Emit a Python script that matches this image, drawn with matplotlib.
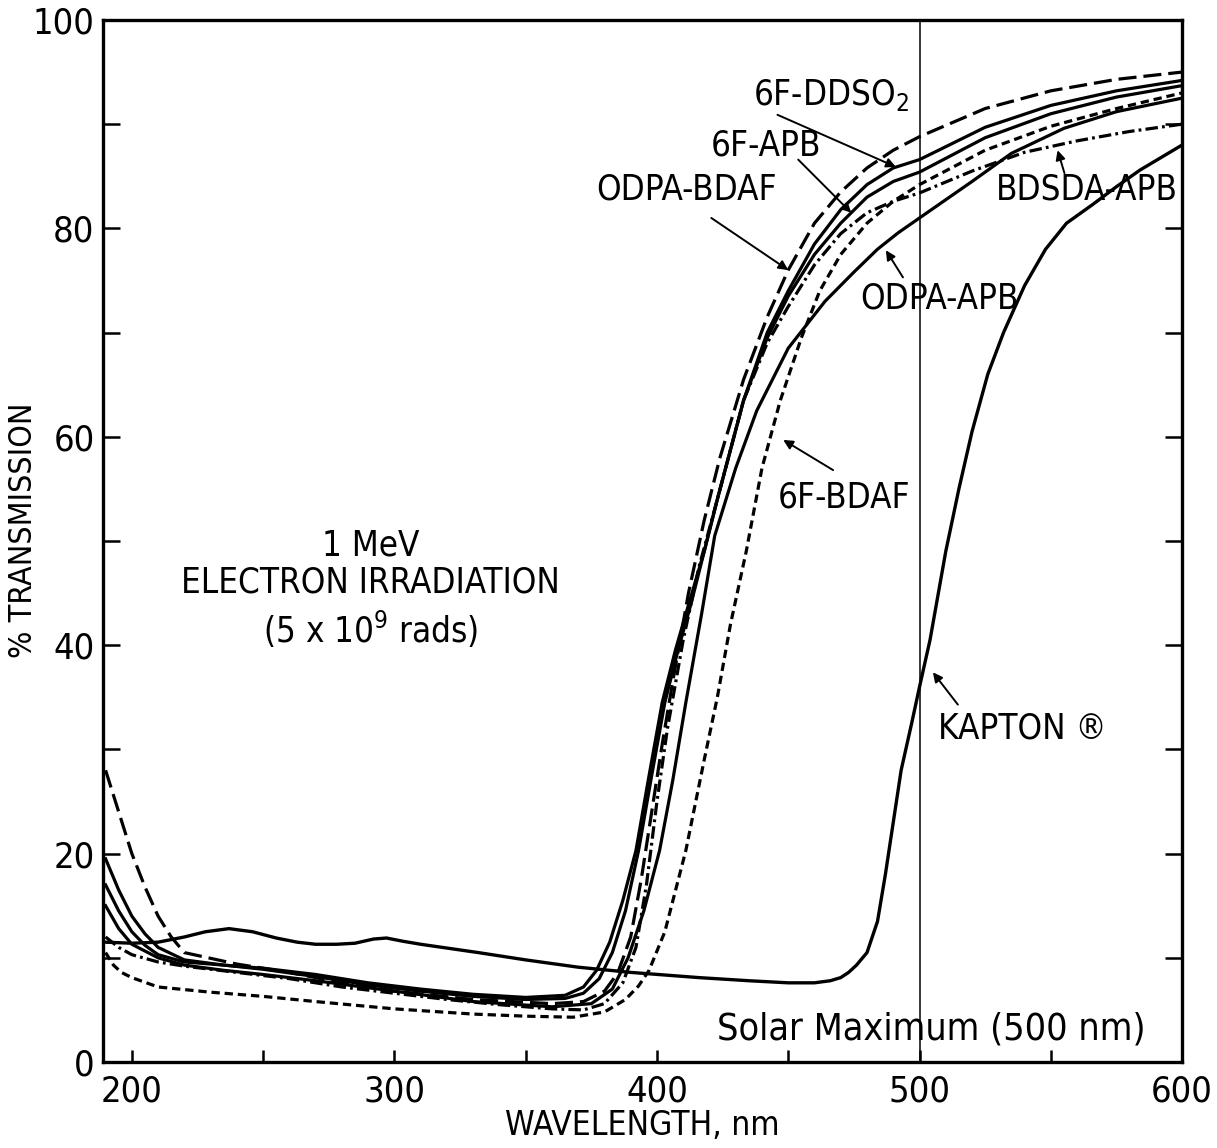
import numpy as np
import matplotlib.pyplot as plt

plt.rcParams['font.family'] = ['DejaVu Sans']
plt.rcParams['font.stretch'] = 'condensed'
plt.rcParams['mathtext.fontset'] = 'dejavusans'
plt.rcParams['lines.scale_dashes'] = False

# transmission curves after 1 MeV electron dose, wavelength in nm, % transmission
kapton_wl = [190, 200, 210, 220, 228, 237, 246, 255, 263, 270, 278, 285, 292, 297, 303,
             310, 332, 350, 370, 390, 416, 435, 450, 460, 466, 470, 473, 476, 480, 484,
             487, 490, 493, 497, 500, 504, 510, 515, 520, 526, 532, 540, 548, 556, 566,
             575, 584, 592, 600]
kapton_t = [11.5, 11.4, 11.5, 12.0, 12.5, 12.8, 12.5, 11.9, 11.5, 11.3, 11.3, 11.4, 11.8, 11.9, 11.6,
            11.3, 10.5, 9.8, 9.1, 8.6, 8.1, 7.8, 7.6, 7.6, 7.8, 8.1, 8.6, 9.3, 10.5, 13.5,
            18, 23, 28, 32.5, 36, 40.5, 49, 55, 60.5, 66, 70, 74.5, 78, 80.5, 82.3,
            84, 85.6, 86.8, 88]

odpa_bdaf_wl = [190, 195, 200, 205, 210, 215, 220, 240, 260, 280, 300, 330, 360, 372, 380,
                385, 390, 394, 398, 402, 406, 412, 418, 424, 433, 442, 450, 460, 470, 480,
                490, 500, 525, 550, 575, 600]
odpa_bdaf_t = [28, 24, 20, 16.8, 14, 12, 10.5, 9.4, 8.6, 7.6, 6.8, 6.0, 5.6, 5.8, 6.8,
               8.5, 12, 17.5, 24, 30.5, 36.5, 45, 52, 58, 65.5, 71.5, 76, 80.5, 83.5, 85.8,
               87.5, 88.8, 91.5, 93.2, 94.3, 95]

ddso2_wl = [190, 195, 200, 205, 210, 220, 235, 250, 270, 290, 310, 330, 350, 365, 372,
            378, 383, 388, 393, 398, 403, 408, 413, 418, 423, 433, 442, 450, 460, 470,
            480, 490, 500, 525, 550, 575, 600]
ddso2_t = [19.5, 16.5, 14, 12.3, 11, 9.8, 9.3, 8.9, 8.2, 7.4, 6.8, 6.3, 6.0, 6.1, 6.6,
           8, 10.5, 14.5, 20.3, 27.5, 34.5, 39.5, 44, 49, 54, 63.5, 70, 74, 78.5, 81.8,
           84.2, 85.8, 86.6, 89.7, 91.8, 93.2, 94.2]

apb_6f_wl = [190, 195, 200, 205, 210, 220, 235, 250, 270, 290, 310, 330, 350, 365, 372,
             377, 382, 387, 392, 397, 402, 407, 411, 418, 423, 433, 442, 450, 460, 470,
             480, 490, 500, 525, 550, 575, 600]
apb_6f_t = [17, 14.5, 12.5, 11.2, 10.3, 9.6, 9.3, 9.0, 8.4, 7.6, 7.0, 6.5, 6.2, 6.4, 7.2,
            8.8, 11.5, 15.5, 20.3, 27.5, 34.5, 39.5, 43, 49, 54, 63.5, 69.5, 73.5, 77.5, 80.5,
            83, 84.5, 85.4, 88.7, 91, 92.6, 93.7]

bdsda_wl = [190, 195, 200, 210, 220, 240, 260, 280, 300, 320, 340, 360, 372, 380, 387,
            392, 396, 400, 404, 410, 416, 423, 433, 442, 450, 460, 470, 480, 490, 500,
            520, 540, 560, 580, 600]
bdsda_t = [12, 11, 10.3, 9.6, 9.2, 8.6, 8.0, 7.2, 6.6, 6.0, 5.5, 5.1, 5.0, 5.6, 7.6,
           11, 17, 25, 32, 40.5, 47.5, 54, 63.5, 69, 72.5, 76.5, 79.5, 81.5, 82.6, 83.4,
           85.5, 87.3, 88.4, 89.3, 90]

odpa_apb_wl = [190, 195, 200, 210, 220, 235, 250, 270, 300, 330, 360, 375, 383, 389, 395,
               401, 406, 411, 417, 422, 430, 438, 450, 464, 475, 484, 492, 500, 520, 535,
               555, 575, 600]
odpa_apb_t = [15, 12.8, 11.3, 10, 9.3, 8.8, 8.4, 7.8, 6.8, 5.8, 5.3, 5.6, 7, 10, 14.5,
              20.3, 27, 34.5, 43, 50.5, 57, 62.5, 68.5, 73, 75.8, 78, 79.6, 81, 84.5, 87.2,
              89.6, 91.2, 92.5]

bdaf_6f_wl = [190, 193, 196, 200, 210, 230, 250, 270, 300, 330, 350, 368, 380, 388, 393,
              397, 403, 411, 418, 423, 428, 434, 440, 447, 455, 462, 470, 480, 490, 500,
              525, 550, 575, 600]
bdaf_6f_t = [10.5, 9.3, 8.6, 8.1, 7.2, 6.7, 6.3, 5.8, 5.1, 4.6, 4.4, 4.3, 4.8, 6, 7.3,
             8.8, 12.5, 20.3, 29, 35, 42, 49, 57, 63.5, 69.5, 74, 77.5, 80.5, 82.6, 84.2,
             87.5, 89.8, 91.5, 93]

fig = plt.figure(figsize=(12.17, 11.48), dpi=100)
ax = fig.add_axes([0.0846, 0.0749, 0.8867, 0.9077])

lw = 2.3
ax.plot(kapton_wl, kapton_t, color='black', lw=2.4)
ax.plot(odpa_bdaf_wl, odpa_bdaf_t, color='black', lw=lw, dashes=(13, 5))
ax.plot(ddso2_wl, ddso2_t, color='black', lw=lw)
ax.plot(apb_6f_wl, apb_6f_t, color='black', lw=lw)
ax.plot(bdsda_wl, bdsda_t, color='black', lw=lw, dashes=(9, 3, 2, 3))
ax.plot(odpa_apb_wl, odpa_apb_t, color='black', lw=lw)
ax.plot(bdaf_6f_wl, bdaf_6f_t, color='black', lw=lw, dashes=(6, 3.5))

# solar maximum marker
ax.axvline(500, color='black', lw=1.1)

ax.set_xlim(189, 600)
ax.set_ylim(0, 100)
ax.set_xticks([200, 300, 400, 500, 600])
ax.set_xticks(np.arange(250, 600, 100), minor=True)
ax.set_yticks(np.arange(0, 101, 20))
ax.set_yticks(np.arange(10, 100, 20), minor=True)
ax.tick_params(axis='both', which='both', direction='in', width=1.8, labelsize=26)
ax.tick_params(axis='y', which='both', length=12, right=True, pad=6)
ax.tick_params(axis='x', which='both', length=9, pad=9)
for s in ax.spines.values():
    s.set_linewidth(2.4)

ax.set_xlabel('WAVELENGTH, nm', fontsize=24, va='center')
ax.xaxis.set_label_coords(0.5, -0.061)
ax.set_ylabel('% TRANSMISSION', fontsize=23, va='center')
ax.yaxis.set_label_coords(-0.074, 0.51)

fs = 25
arrow = dict(arrowstyle='-|>', color='black', lw=1.4, mutation_scale=14, shrinkA=0, shrinkB=0)

ax.text(436.7, 92.8, r'6F-DDSO$_\mathregular{2}$', fontsize=fs, ha='left', va='center')
ax.annotate('', xy=(491, 85.9), xytext=(445.9, 90.9), arrowprops=arrow)
ax.text(420.4, 88, '6F-APB', fontsize=fs, ha='left', va='center')
ax.annotate('', xy=(474, 81.5), xytext=(453.8, 86.6), arrowprops=arrow)
ax.text(377, 83.7, 'ODPA-BDAF', fontsize=fs, ha='left', va='center')
ax.annotate('', xy=(450, 76), xytext=(420.7, 81), arrowprops=arrow)
ax.text(529, 83.7, 'BDSDA-APB', fontsize=fs, ha='left', va='center')
ax.annotate('', xy=(552.6, 87.5), xytext=(555.2, 85.3), arrowprops=arrow)
ax.text(477.4, 73.3, 'ODPA-APB', fontsize=fs, ha='left', va='center')
ax.annotate('', xy=(487.2, 77.9), xytext=(493.7, 75.3), arrowprops=arrow)
ax.text(446, 54.2, '6F-BDAF', fontsize=fs, ha='left', va='center')
ax.annotate('', xy=(448.1, 59.7), xytext=(467.1, 56.8), arrowprops=arrow)
ax.text(507, 32, 'KAPTON ®', fontsize=fs, ha='left', va='center')
ax.annotate('', xy=(505.1, 37.4), xytext=(514.6, 34.3), arrowprops=arrow)

ax.text(291, 49.6, '1 MeV', fontsize=fs, ha='center', va='center')
ax.text(291, 46, 'ELECTRON IRRADIATION', fontsize=fs, ha='center', va='center')
ax.text(291, 41.5, r'(5 x 10$^\mathregular{9}$ rads)', fontsize=fs, ha='center', va='center')
ax.text(423, 3.1, 'Solar Maximum (500 nm)', fontsize=27, ha='left', va='center')

fig.savefig('out.png', dpi=100, facecolor='white')
